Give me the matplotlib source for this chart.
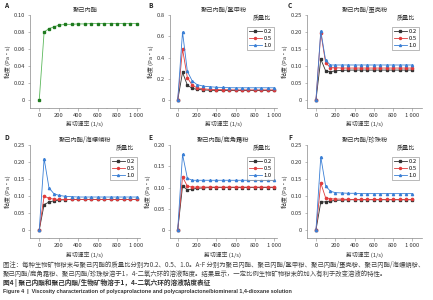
import matplotlib
matplotlib.use("Agg")
import matplotlib.pyplot as plt
from matplotlib.ticker import FixedLocator

plt.rcParams['font.family'] = ['Noto Sans CJK SC', 'DejaVu Sans']
plt.rcParams['axes.unicode_minus'] = False

shear = [0, 50, 100, 150, 200, 267, 333, 400, 467, 533, 600, 667, 733, 800, 867, 933, 1000]

pcl = [0, 0.080, 0.084, 0.086, 0.088, 0.089, 0.089, 0.0895, 0.0895, 0.09, 0.09, 0.09, 0.09, 0.09, 0.09, 0.09, 0.09]

ratios = ["0.2", "0.5", "1.0"]

b_02 = [0, 0.26, 0.14, 0.11, 0.10, 0.095, 0.092, 0.09, 0.09, 0.09, 0.09, 0.09, 0.09, 0.09, 0.09, 0.09, 0.09]
b_05 = [0, 0.48, 0.21, 0.14, 0.115, 0.105, 0.10, 0.098, 0.097, 0.096, 0.095, 0.095, 0.095, 0.095, 0.095, 0.095, 0.095]
b_10 = [0, 0.64, 0.27, 0.18, 0.145, 0.13, 0.125, 0.12, 0.118, 0.116, 0.115, 0.115, 0.115, 0.115, 0.115, 0.115, 0.115]

c_02 = [0, 0.12, 0.086, 0.083, 0.086, 0.087, 0.088, 0.088, 0.088, 0.088, 0.088, 0.088, 0.088, 0.088, 0.088, 0.088, 0.088]
c_05 = [0, 0.198, 0.11, 0.095, 0.095, 0.094, 0.094, 0.094, 0.094, 0.094, 0.094, 0.094, 0.094, 0.094, 0.094, 0.094, 0.094]
c_10 = [0, 0.203, 0.117, 0.103, 0.103, 0.103, 0.103, 0.103, 0.103, 0.103, 0.103, 0.103, 0.103, 0.103, 0.103, 0.103, 0.103]

d_02 = [0, 0.075, 0.082, 0.086, 0.088, 0.089, 0.09, 0.09, 0.09, 0.09, 0.09, 0.09, 0.09, 0.09, 0.09, 0.09, 0.09]
d_05 = [0, 0.10, 0.093, 0.091, 0.09, 0.09, 0.09, 0.09, 0.09, 0.09, 0.09, 0.09, 0.09, 0.09, 0.09, 0.09, 0.09]
d_10 = [0, 0.21, 0.124, 0.107, 0.102, 0.099, 0.098, 0.097, 0.097, 0.097, 0.097, 0.097, 0.097, 0.097, 0.097, 0.097, 0.097]

e_02 = [0, 0.103, 0.095, 0.096, 0.098, 0.099, 0.1, 0.1, 0.1, 0.1, 0.1, 0.1, 0.1, 0.1, 0.1, 0.1, 0.1]
e_05 = [0, 0.125, 0.103, 0.101, 0.101, 0.101, 0.101, 0.101, 0.101, 0.101, 0.101, 0.101, 0.101, 0.101, 0.101, 0.101, 0.101]
e_10 = [0, 0.178, 0.122, 0.117, 0.117, 0.117, 0.117, 0.117, 0.117, 0.117, 0.117, 0.117, 0.117, 0.117, 0.117, 0.117, 0.117]

f_02 = [0, 0.082, 0.083, 0.085, 0.087, 0.088, 0.089, 0.089, 0.089, 0.089, 0.089, 0.089, 0.089, 0.089, 0.089, 0.089, 0.089]
f_05 = [0, 0.138, 0.095, 0.092, 0.091, 0.091, 0.09, 0.09, 0.09, 0.09, 0.09, 0.09, 0.09, 0.09, 0.09, 0.09, 0.09]
f_10 = [0, 0.215, 0.13, 0.114, 0.11, 0.109, 0.108, 0.108, 0.107, 0.107, 0.107, 0.107, 0.107, 0.107, 0.107, 0.107, 0.107]

titles = ["聚己内酯", "聚己内酯/鳖甲粉", "聚己内酯/蛋壳粉", "聚己内酯/海螵蛸粉", "聚己内酯/鹿角霜粉", "聚己内酯/珍珠粉"]
letters = ["A", "B", "C", "D", "E", "F"]
xticks = [0, 200, 400, 600, 800, 1000]
xticklabels = ["0", "200", "400", "600", "800", "1 000"]
xlabel = "剪切速率 (1/s)"
ylabel = "黏度 (Pa·s)"

caption1 = "图注：每种生物矿物粉末与聚己内酯的质量比分别为0.2、0.5、1.0。A-F 分别为聚己内酯、聚己内酯/鳖甲粉、聚己内酯/蛋壳粉、聚己内酯/海螵蛸粉、"
caption2 = "聚己内酯/鹿角霜粉、聚己内酯/珍珠粉溶于1，4-二氧六环的溶液黏度。结果显示，一定比例生物矿物粉末的加入有利于改变溶液的特性。"
caption3 = "图4 | 聚己内酯和聚己内酯/生物矿物溶于1，4-二氧六环的溶液黏度表征"
caption4 = "Figure 4  |  Viscosity characterization of polycaprolactone and polycaprolactone/biomineral 1,4-dioxane solution"

colors = ["#333333", "#e03c3c", "#3a7fd5"]
markers = ["s", "o", "^"]

W, H = 433, 300
fig = plt.figure(figsize=(4.33, 3.0), dpi=100)

def ax_at(x0, x1, ytop, ybot):
    return fig.add_axes([x0 / W, 1 - ybot / H, (x1 - x0) / W, (ybot - ytop) / H])

FS = 4.2

def style(ax, ymax, ystep, ydec, title, show_xlabel, xlim):
    ax.set_xlim(*xlim)
    span = ymax
    ax.set_ylim(-span * 0.094, ymax)
    for s in ["top", "right"]:
        ax.spines[s].set_visible(False)
    for s in ["left", "bottom"]:
        ax.spines[s].set_color("#888888")
        ax.spines[s].set_linewidth(0.5)
    yt = [round(i * ystep, 4) for i in range(int(round(ymax / ystep)) + 1)]
    ax.set_yticks(yt)
    ax.set_yticklabels(["0" if v == 0 else f"{v:.{ydec}f}" for v in yt])
    ax.set_xticks(xticks)
    ax.set_xticklabels(xticklabels)
    ax.xaxis.set_minor_locator(FixedLocator([100, 300, 500, 700, 900]))
    ax.tick_params(axis="both", which="major", labelsize=FS, length=1.8, width=0.4,
                   color="#888888", pad=2, labelcolor="#333333")
    ax.tick_params(axis="x", which="minor", length=1.0, width=0.3, color="#888888")
    ax.set_title(title, fontsize=FS + 0.3, pad=2, color="#333333")
    ax.set_ylabel(ylabel, fontsize=FS, labelpad=2, color="#333333")
    if show_xlabel:
        ax.set_xlabel(xlabel, fontsize=FS, labelpad=1.5, color="#333333")
    ax.patch.set_alpha(0)

def legend(ax):
    leg = ax.legend(loc="upper right", bbox_to_anchor=(1.0, 0.90), fontsize=FS, frameon=True,
                    handlelength=2.2, handletextpad=0.4, borderpad=0.35, labelspacing=0.3,
                    fancybox=False, markerscale=0.9)
    leg.get_frame().set_linewidth(0.4)
    leg.get_frame().set_edgecolor("#666666")
    ax.text(0.86, 0.93, "质量比", transform=ax.transAxes, fontsize=FS + 0.2,
            ha="center", va="bottom", color="#333333")

# Row 1, panel A
axA = ax_at(30, 140, 15, 108)
axA.plot(shear, pcl, color="#5cb85c", lw=0.6, marker="s", ms=1.6, mfc="#1f7a1f", mec="#1f7a1f")
style(axA, 0.10, 0.02, 2, titles[0], True, (-95, 1035))

groups = [
    (b_02, b_05, b_10, 0.8, 0.2, 1, (170, 277, 15, 108), (-80, 1030), True),
    (c_02, c_05, c_10, 0.25, 0.05, 2, (307, 422, 15, 108), (-93, 1100), True),
    (d_02, d_05, d_10, 0.25, 0.05, 2, (30, 140, 145, 238), (-95, 1035), False),
    (e_02, e_05, e_10, 0.20, 0.05, 2, (170, 277, 145, 238), (-80, 1030), False),
    (f_02, f_05, f_10, 0.25, 0.05, 2, (307, 422, 145, 238), (-93, 1100), False),
]

for i, (s1, s2, s3, ymax, ystep, ydec, pos, xl, showx) in enumerate(groups):
    ax = ax_at(*pos)
    for vals, c, m, lab in zip([s1, s2, s3], colors, markers, ratios):
        ax.plot(shear, vals, color=c, lw=0.6, marker=m, ms=1.6, mfc=c, mec=c, label=lab)
    style(ax, ymax, ystep, ydec, titles[i + 1], showx, xl)
    legend(ax)

# Bottom-row x labels
for xc in [85, 223, 365]:
    fig.text(xc / W, 1 - 255 / H, xlabel, fontsize=FS, ha="center", va="center", color="#333333")

# Panel letters
for lab, (x, y) in zip(letters, [(4, 5), (148, 5), (288, 5), (4, 138), (148, 138), (288, 138)]):
    fig.text(x / W, 1 - y / H, lab, fontsize=FS + 0.5, fontweight="bold", ha="left", va="center", color="#222222")

# Caption
fig.text(3 / W, 1 - 265 / H, caption1, fontsize=4.6, ha="left", va="center", color="#444444")
fig.text(3 / W, 1 - 273.5 / H, caption2, fontsize=4.6, ha="left", va="center", color="#444444")
fig.text(3 / W, 1 - 283 / H, caption3, fontsize=4.8, ha="left", va="center", color="#333333", fontweight="bold")
t4 = fig.text(3 / W, 1 - 292 / H, caption4, fontsize=4.4, ha="left", va="center", color="#333333",
              fontweight="bold", family=["Liberation Sans", "DejaVu Sans"])
# fit the English caption line to its width in the reference (ends near x=292 px)
r = fig.canvas.get_renderer()
w = t4.get_window_extent(r).width
t4.set_fontsize(4.4 * 289.0 / w)

fig.savefig("out.png", dpi=100)
